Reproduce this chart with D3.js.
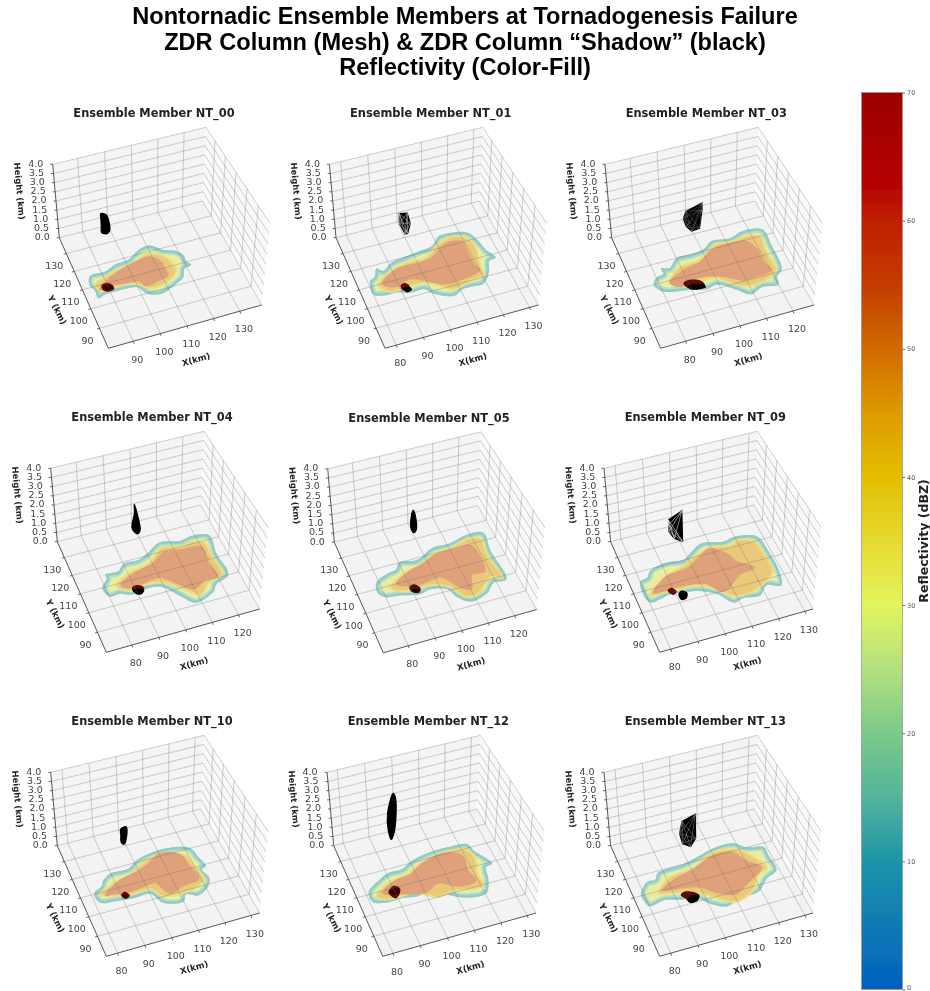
<!DOCTYPE html>
<html>
<head>
<meta charset="utf-8">
<script src="https://cdn.jsdelivr.net/npm/d3@7"></script>
<style>
body { margin: 0; background: #fff; }
text { font-family: "DejaVu Sans"; }
</style>
</head>
<body>
<div id="chart"></div>
<script>
const panelNames = ["NT_00","NT_01","NT_03","NT_04","NT_05","NT_09","NT_10","NT_12","NT_13"];
const panelShift = [[0,0],[276.7,0],[552.3,0],[-2,304],[275,304.5],[551.3,304],[-2,608],[274.4,608],[551.3,608]];
const xDomains = [[80.9,138.4],[75.9,133.4],[70.9,128],[70.7,128.1],[70.9,128.5],[76,133.1],[75.9,133.4],[76.3,133.4],[76,133.1]];
const xTicks = [[90,100,110,120,130],[80,90,100,110,120,130],[80,90,100,110,120],[80,90,100,110,120],[80,90,100,110,120],[80,90,100,110,120,130],[80,90,100,110,120,130],[80,90,100,110,120,130],[80,90,100,110,120,130]];
const yDomain = [80,139];
const yTicks = [90,100,110,120,130];
const zTicks = [0,0.5,1,1.5,2,2.5,3,3.5,4];
const cbValues = [0,10,15,20,25,30,35,40,45,50,55,60,63,70];
const cbColors = ["#0060c0","#1e94a8","#52b49a","#7cc98a","#b5e07f","#e2f55e","#e6da30","#e3be00","#de9a00","#d06a00","#c43c00","#bd2000","#b50000","#9c0000"];
const cbTicks = [0,10,20,30,40,50,60,70];

// reflectivity outlines, [X km, Y km]
const stormOuter = [
[[85,115],[86,116],[89,116],[92,116],[96,118],[102,119],[106,122],[111,123],[115,119],[119,117],[121,114],[121,110],[122,108],[119,107],[117,103],[114,101],[110,99],[106,98],[102,100],[100,104],[96,105],[92,105],[88,105],[85,104],[85,108],[84,111]],
[[81,113],[83,114],[85,118],[87,116],[91,119],[96,120],[102,121],[108,122],[112,126],[118,126],[123,124],[125,119],[126,113],[128,108],[125,107],[123,102],[119,97],[115,97],[111,97],[107,95],[100,99],[98,102],[93,102],[88,104],[84,104],[80,106]],
[[78,110],[80,113],[83,114],[83,117],[86,116],[90,120],[96,120],[101,121],[105,124],[112,123],[118,125],[125,123],[125,114],[124,101],[121,98],[120,94],[114,95],[109,93],[105,97],[99,102],[95,101],[89,103],[81,105],[79,107]],
[[79,110],[82,114],[82,116],[87,116],[90,119],[96,119],[100,121],[106,125],[114,123],[118,124],[125,122],[124,112],[124,100],[118,97],[116,94],[108,91],[104,96],[99,103],[93,104],[88,103],[84,105],[80,105]],
[[79,113],[84,116],[88,117],[90,120],[97,119],[104,123],[111,123],[118,125],[125,124],[124,114],[124,98],[119,98],[115,94],[108,92],[104,96],[102,101],[96,103],[92,102],[85,104],[80,105],[78,108]],
[[80,115],[83,116],[85,119],[92,121],[98,120],[101,122],[107,126],[115,124],[120,125],[128,122],[129,113],[129,103],[127,95],[122,97],[118,93],[112,94],[108,93],[104,99],[98,103],[94,104],[88,105],[80,104]],
[[81,110],[85,113],[86,115],[90,118],[92,118],[97,118],[101,121],[108,123],[115,123],[122,120],[123,115],[124,109],[122,108],[123,103],[121,99],[116,96],[112,98],[110,95],[103,97],[100,103],[94,103],[87,104],[82,105]],
[[81,111],[87,116],[91,118],[96,118],[101,121],[109,123],[117,123],[123,122],[124,118],[126,114],[128,109],[125,108],[124,103],[123,100],[121,96],[118,95],[111,97],[107,100],[103,103],[96,103],[92,104],[85,104],[81,106]],
[[79,111],[83,116],[86,116],[88,119],[98,120],[105,122],[111,124],[119,124],[123,120],[129,118],[129,113],[129,105],[124,102],[119,97],[111,96],[106,94],[101,97],[96,103],[92,103],[86,105],[80,104],[79,108]]
];
const stormMid = [
[[86,111],[90,113],[95,115],[102,116],[108,119],[113,117],[115,114],[116,109],[116,107],[113,104],[109,102],[104,102],[101,105],[97,107],[92,107],[87,107]],
[[83,110],[88,114],[96,117],[104,117],[110,122],[118,124],[122,121],[123,115],[122,110],[121,104],[121,101],[115,100],[108,98],[103,102],[99,105],[92,105],[86,105]],
[[84,109],[89,115],[97,116],[102,119],[106,122],[112,121],[119,122],[123,120],[122,112],[122,101],[117,98],[111,97],[106,99],[100,105],[93,106],[87,106]],
[[84,109],[91,114],[99,116],[106,122],[113,120],[117,121],[122,119],[122,111],[122,101],[116,99],[111,94],[106,99],[100,105],[93,106],[88,105]],
[[83,109],[90,114],[97,116],[105,120],[112,121],[118,123],[123,121],[122,112],[123,99],[119,101],[112,95],[107,95],[103,102],[97,105],[90,105],[86,106]],
[[81,107],[89,114],[97,117],[104,121],[110,123],[117,121],[121,123],[126,120],[127,111],[127,103],[124,100],[117,96],[109,96],[104,102],[98,106],[92,106],[86,107]],
[[83,109],[90,113],[97,115],[101,118],[108,121],[114,120],[119,117],[120,111],[121,103],[117,100],[110,99],[104,100],[101,105],[93,105],[86,107]],
[[83,108],[89,113],[97,115],[102,118],[109,120],[117,121],[122,119],[123,113],[121,106],[121,100],[117,99],[110,101],[104,100],[96,105],[87,105]],
[[85,109],[91,115],[101,117],[110,122],[118,121],[122,117],[126,107],[122,105],[117,98],[109,95],[103,100],[98,104],[91,107]]
];
const stormCore = [
[[94,113],[102,116],[109,117],[112,113],[112,110],[112,106],[108,105],[103,104],[102,107],[96,108],[91,109],[87,108]],
[[85,110],[92,115],[100,115],[106,116],[113,121],[119,120],[119,115],[119,107],[120,104],[112,102],[106,102],[95,109],[89,107]],
[[84,109],[91,113],[98,115],[103,119],[110,120],[117,119],[119,113],[119,106],[120,102],[114,101],[109,101],[102,106],[93,108],[87,106]],
[[86,109],[93,113],[100,115],[106,119],[113,118],[120,117],[119,108],[120,101],[115,101],[110,98],[105,103],[100,108],[92,107],[88,107]],
[[86,110],[92,114],[98,116],[104,119],[112,119],[118,119],[119,113],[118,105],[113,105],[110,98],[106,102],[102,108],[94,107],[89,108]],
[[83,108],[90,114],[98,115],[104,119],[109,122],[114,117],[116,112],[119,109],[121,107],[115,106],[109,101],[106,100],[102,106],[94,108],[88,108]],
[[85,108],[92,113],[99,115],[104,117],[110,121],[117,118],[118,112],[119,104],[113,103],[107,101],[104,108],[102,108],[92,107],[88,108]],
[[86,109],[92,113],[98,114],[104,118],[114,120],[119,116],[118,109],[119,103],[112,103],[106,107],[100,104],[91,107]],
[[87,110],[92,113],[101,116],[110,120],[117,119],[120,113],[124,108],[117,103],[111,99],[105,102],[100,107],[93,109]]
];
const hookCells = [
[[88.1,109.8],[90.2,110.3],[91.8,108.4],[91.7,106.3],[89.3,105.8],[87.7,107.3]],
[[90.5,106.7],[92.4,107.4],[93.5,105.5],[92.1,103.7],[90.5,104.2]],
[[88.2,106.9],[90.4,107.8],[94.7,105.6],[95.1,102.9],[92.3,102.2],[89.1,103.8]],
[[88.8,106.0],[91.0,107.0],[93.0,105.3],[92.4,102.9],[89.6,102.7]],
[[89.5,106.7],[91.6,107.5],[93.2,104.7],[92.0,102.8],[89.6,104.3]],
[[87.8,107.2],[89.6,108.1],[90.7,105.5],[89.0,104.4]],
[[90.0,106.1],[91.9,107.2],[92.9,104.7],[91.0,103.6]],
[[87.8,108.9],[90.4,111.0],[92.2,109.0],[91.4,106.6],[89.3,104.7],[87.8,107.1]],
[[92.1,105.3],[94.1,106.4],[98.2,103.4],[97.2,100.7],[94.1,100.7],[93.0,103.2]]
];
const shadowCells = [
[[88.6,108.7],[90.4,109.0],[91.1,107.3],[89.5,106.4]],
[[90.8,105.1],[93.5,104.8],[93.7,103.3],[91.5,102.7]],
[[89.5,105.1],[94.7,103.8],[95.2,102.2],[91.6,102.1],[89.5,103.3]],
[[88.9,105.1],[92.6,104.1],[91.7,102.2],[89.5,102.5]],
[[89.7,105.5],[92.3,104.2],[91.2,103.3],[89.7,104.3]],
[[90.8,104.0],[92.5,105.4],[94.1,103.7],[93.0,101.1],[91.0,100.9]],
[[90.2,105.7],[92.0,105.0],[91.2,103.9]],
[[88.3,108.7],[91.1,110.0],[91.7,108.3],[89.8,106.3]],
[[93.6,102.1],[95.7,103.6],[98.4,102.9],[96.7,100.3],[94.0,100.3]]
];
// ZDR column silhouette at Y = columnY, [X km, height km]
const columnY = 120;
const columnOutline = [
[[92,2.63],[94,2.50],[95,2.02],[95,1.62],[94,1.51],[92,1.64],[92,1.96],[92,2.38]],
[[95,2.35],[98,2.26],[99,1.70],[98,1.21],[97,1.20],[95,1.84]],
[[94,2.31],[100,2.54],[100,2.17],[99,1.25],[96,1.21],[94,1.52],[93,1.98]],
[[95,2.86],[96,2.33],[97,1.43],[96,1.27],[94,1.63],[95,2.40]],
[[96,2.55],[97,1.99],[97,1.50],[96,1.37],[95,1.65],[95,2.07]],
[[93,2.29],[98,2.59],[98,0.99],[95,1.25],[93,1.69],[93,2.05]],
[[95,1.95],[97,2.00],[97,1.40],[96,1.12],[95,1.28],[95,1.65]],
[[94.3,3.86],[95,3.67],[95,2.61],[94,1.76],[93,1.49],[92,2.02],[92,2.89]],
[[98,2.24],[103,2.45],[103,1.19],[101,0.82],[98,1.09],[97,1.65]]
];
const meshOpacity = [0,0.8,0.35,0,0,1,0,0,0.55];

function homography(p0, p1, p2, p3) {
    const dx1 = p1[0]-p2[0], dx2 = p3[0]-p2[0], sx = p0[0]-p1[0]+p2[0]-p3[0];
    const dy1 = p1[1]-p2[1], dy2 = p3[1]-p2[1], sy = p0[1]-p1[1]+p2[1]-p3[1];
    const det = dx1*dy2 - dx2*dy1;
    const g = (sx*dy2 - dx2*sy)/det, h = (dx1*sy - sx*dy1)/det;
    return (u, v) => {
        const q = g*u + h*v + 1;
        return [((p1[0]-p0[0]+g*p1[0])*u + (p3[0]-p0[0]+h*p3[0])*v + p0[0])/q,
                ((p1[1]-p0[1]+g*p1[1])*u + (p3[1]-p0[1]+h*p3[1])*v + p0[1])/q];
    };
}
const floorMap = homography([108.3,348.3],[261.7,305],[202.7,201],[59.3,237.7]);
const topMap = homography([104,266.7],[270,223.3],[206,127.3],[52.7,164.3]);
const project = (u, v, w) => {
    const a = floorMap(u, v), b = topMap(u, v);
    return [a[0]+(b[0]-a[0])*w, a[1]+(b[1]-a[1])*w];
};

const yFrac = d3.scaleLinear().domain(yDomain).range([0,1]);
const zFrac = d3.scaleLinear().domain([0,4]).range([0,1]);
const colorOf = d3.scaleLinear().domain(cbValues).range(cbColors);
const paneBg = "#f3f3f3";
const bandFill = dbz => d3.interpolateRgb(paneBg, colorOf(dbz))(0.5);

const svg = d3.select("#chart").append("svg").attr("width", 930).attr("height", 991);
const defs = svg.append("defs");
defs.append("filter").attr("id","soft").append("feGaussianBlur").attr("stdDeviation",0.55);
const grad = defs.append("linearGradient").attr("id","cb").attr("x1",0).attr("x2",0).attr("y1",1).attr("y2",0);
cbValues.forEach((v,i) => grad.append("stop").attr("offset", v/70).attr("stop-color", cbColors[i]));

const titleLines = ["Nontornadic Ensemble Members at Tornadogenesis Failure","ZDR Column (Mesh) & ZDR Column \u201cShadow\u201d (black)","Reflectivity (Color-Fill)"];
svg.selectAll(".title").data(titleLines).enter().append("text")
    .attr("x",465).attr("y",(d,i) => 24+i*25.5).attr("text-anchor","middle")
    .style("font-family","Liberation Sans").style("font-weight","bold").style("font-size","23.6px")
    .style("filter","url(#soft)").text(d => d);

panelNames.forEach((name, i) => {
    const g = svg.append("g").attr("transform","translate("+panelShift[i]+")").attr("filter","url(#soft)");
    const x = d3.scaleLinear().domain(xDomains[i]).range([0,1]);
    const floorPt = d => project(x(d[0]), yFrac(d[1]), 0);
    const colPt = d => project(x(d[0]), yFrac(columnY), zFrac(d[1]));
    const smooth = d3.line().curve(d3.curveCatmullRomClosed.alpha(0.5));
    const closed = d3.line().curve(d3.curveLinearClosed);

    g.append("path").attr("d", closed([[0,0,0],[1,0,0],[1,1,0],[0,1,0]].map(c => project(...c)))).attr("fill",paneBg);
    g.append("path").attr("d", closed([[0,1,0],[1,1,0],[1,1,1],[0,1,1]].map(c => project(...c)))).attr("fill","#f4f4f4");
    g.append("path").attr("d", closed([[1,0,0],[1,1,0],[1,1,1],[1,0,1]].map(c => project(...c)))).attr("fill","#f9f9f9");

    // storm, rings come from clipped strokes of the outer outline
    const outerPath = smooth(stormOuter[i].map(floorPt));
    defs.append("clipPath").attr("id","clip"+i).append("path").attr("d",outerPath);
    const storm = g.append("g");
    storm.append("path").attr("d",outerPath).attr("fill",bandFill(33));
    [[13,28],[9,20],[5,12]].forEach(r => storm.append("path").attr("d",outerPath).attr("fill","none")
        .attr("stroke",bandFill(r[1])).attr("stroke-width",r[0]).attr("clip-path","url(#clip"+i+")"));
    storm.append("path").attr("d",smooth(stormMid[i].map(floorPt))).attr("fill",bandFill(44)).attr("stroke",bandFill(38)).attr("stroke-width",2);
    storm.append("path").attr("d",smooth(stormCore[i].map(floorPt))).attr("fill",bandFill(53)).attr("stroke",bandFill(53)).attr("stroke-width",2.5);
    storm.append("path").attr("d",smooth(hookCells[i].map(floorPt))).attr("fill","#5a0805");
    storm.append("path").attr("d",smooth(shadowCells[i].map(floorPt))).attr("fill","#000").attr("opacity",i === 0 || i === 6 || i === 7 ? 0.45 : 1);

    // grid
    const line = d3.line();
    const gridColor = "rgba(110,110,110,0.36)";
    const seg = (a,b) => g.append("path").attr("d",line([project(...a),project(...b)])).attr("stroke",gridColor).attr("stroke-width",0.9).attr("fill","none");
    xTicks[i].forEach(t => { seg([x(t),0,0],[x(t),1,0]); seg([x(t),1,0],[x(t),1,1]); });
    yTicks.forEach(t => { seg([0,yFrac(t),0],[1,yFrac(t),0]); seg([1,yFrac(t),0],[1,yFrac(t),1]); });
    zTicks.forEach(t => { seg([0,1,zFrac(t)],[1,1,zFrac(t)]); seg([1,1,zFrac(t)],[1,0,zFrac(t)]); });

    // column
    const colPts = columnOutline[i].map(colPt);
    g.append("path").attr("d",(meshOpacity[i] > 0 ? closed : smooth)(colPts)).attr("fill","#000").attr("stroke","#000").attr("stroke-width",1.2);
    if (meshOpacity[i] > 0) {
        colPts.forEach((a,m) => colPts.forEach((b,n) => {
            if (n > m+1) g.append("path").attr("d",line([a,b])).attr("stroke","#fff").attr("stroke-width",0.5).attr("opacity",meshOpacity[i]);
        }));
    }

    // axes
    const axisColor = "#444";
    const axisLine = (a,b) => g.append("path").attr("d",line([project(...a),project(...b)])).attr("stroke",axisColor).attr("stroke-width",0.9);
    axisLine([0,0,0],[1,0,0]); axisLine([0,0,0],[0,1,0]); axisLine([0,1,0],[0,1,1]);
    const tickText = (p,s) => g.append("text").attr("x",p[0]).attr("y",p[1]).attr("text-anchor","middle").attr("dy","0.35em").attr("fill","#444").style("font-size","9.5px").text(s);
    xTicks[i].forEach(t => {
        const p = project(x(t),0,0);
        g.append("path").attr("d",line([p,[p[0]+0.8,p[1]+2.5]])).attr("stroke",axisColor).attr("stroke-width",0.8);
        tickText([p[0]+4,p[1]+18],t);
    });
    yTicks.forEach(t => {
        const p = project(0,yFrac(t),0);
        g.append("path").attr("d",line([p,[p[0]-2.5,p[1]+0.8]])).attr("stroke",axisColor).attr("stroke-width",0.8);
        tickText([p[0]-12,p[1]+12],t);
    });
    zTicks.forEach(t => {
        const p = project(0,1,zFrac(t));
        g.append("path").attr("d",line([p,[p[0]-2.5,p[1]]])).attr("stroke",axisColor).attr("stroke-width",0.8);
        tickText([p[0]-17,p[1]-1],t.toFixed(1));
    });
    const axisLabel = (px,py,r,s) => g.append("text").attr("transform","translate("+px+","+py+") rotate("+r+")").attr("text-anchor","middle").attr("dy","0.35em")
        .attr("fill","#222").style("font-weight","bold").style("font-size","8.5px").text(s);
    axisLabel(196,359.3,-16,"X(km)");
    axisLabel(57.3,310,63,"Y (km)");
    axisLabel(19.5,191,85,"Height (km)");
    g.append("text").attr("x",154).attr("y",113.5).attr("dy","0.35em").attr("text-anchor","middle").attr("fill","#222")
        .style("font-weight","bold").style("font-size","11.4px").text("Ensemble Member " + name);
});

// colorbar
const cb = svg.append("g").attr("filter","url(#soft)");
const cbScale = d3.scaleLinear().domain([0,70]).range([989.5,92.5]);
cb.append("rect").attr("x",861.5).attr("y",cbScale(70)).attr("width",41).attr("height",cbScale(0)-cbScale(70)).attr("fill","url(#cb)").attr("stroke","#999").attr("stroke-width",0.8);
cb.append("g").attr("transform","translate(902.5,0)").call(d3.axisRight(cbScale).tickValues(cbTicks).tickSize(2.5).tickPadding(2)).call(a => {
    a.select(".domain").remove();
    a.selectAll("line").attr("stroke","#666");
    a.selectAll("text").style("font-size","6.5px").style("font-family","DejaVu Sans").attr("fill","#555")
        .attr("y", d => d === 0 ? -2.5 : 0);
});
cb.append("text").attr("transform","translate(924,541) rotate(-90)").attr("text-anchor","middle").attr("dy","0.35em")
    .style("font-weight","bold").style("font-size","12.5px").attr("fill","#222").text("Reflectivity (dBZ)");
</script>
</body>
</html>
